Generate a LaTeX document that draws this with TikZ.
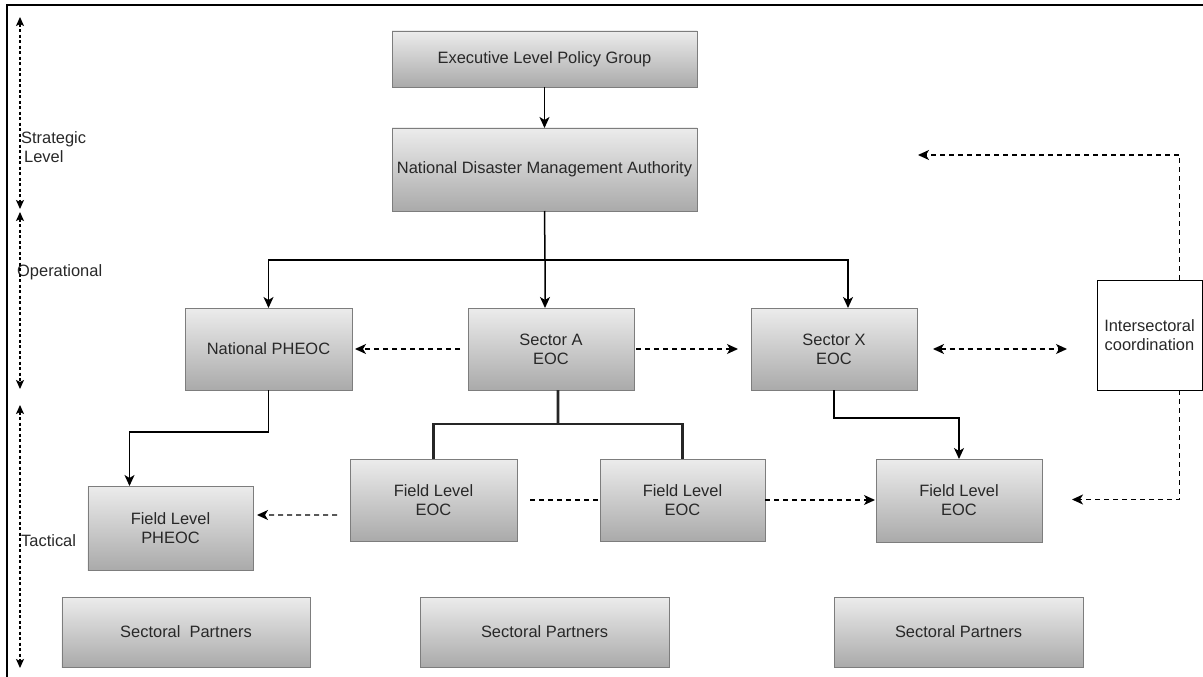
\documentclass[tikz,border=0pt]{standalone}
\usepackage{fontspec}
\setmainfont{Liberation Sans}
\usetikzlibrary{arrows.meta}
\definecolor{boxtop}{RGB}{236,236,236}
\definecolor{boxbot}{RGB}{170,170,170}
\definecolor{boxedge}{RGB}{125,125,125}
\definecolor{txt}{RGB}{40,40,40}
\tikzset{
  gbox/.style={draw=boxedge, line width=0.9bp, top color=boxtop, bottom color=boxbot,
    inner sep=0pt, outer sep=0pt, align=center, text=txt,
    font=\fontsize{16.5}{19}\selectfont},
  wbox/.style={draw=black, line width=1bp, fill=white, inner sep=0pt, outer sep=0pt,
    align=center, text=txt, font=\fontsize{16.5}{19}\selectfont},
  lvl/.style={anchor=west, inner sep=0pt, text=txt, align=left,
    font=\fontsize{16.5}{19}\selectfont},
  arr/.style={draw=black, line width=1.5bp, -{Stealth[length=11bp,width=10bp,inset=3bp]}},
  plain/.style={draw=black, line width=1.5bp},
  thickline/.style={draw=black!85, line width=2.8bp},
  dasharrow/.style={draw=black, line width=1.4bp, dash pattern=on 5bp off 4bp,
    -{Stealth[length=11bp,width=10bp,inset=3bp]}},
  dashboth/.style={draw=black, line width=1.4bp, dash pattern=on 5bp off 4bp,
    {Stealth[length=11bp,width=10bp,inset=3bp]}-{Stealth[length=11bp,width=10bp,inset=3bp]}},
  dashline/.style={draw=black, line width=1.4bp, dash pattern=on 5bp off 4bp},
  levelarrow/.style={draw=black, line width=1.3bp, dash pattern=on 3bp off 2.5bp,
    {Stealth[length=9bp,width=8bp,inset=2bp]}-{Stealth[length=9bp,width=8bp,inset=2bp]}}
}
\begin{document}
\begin{tikzpicture}[x=1bp,y=-1bp]
\useasboundingbox (0,0) rectangle (1203,677);
\fill[white] (0,0) rectangle (1203,677);
% frame
\draw[line width=2bp] (7,680) -- (7,5) -- (1203,5);

% nodes
\node[gbox, minimum width=305bp, minimum height=56bp] (exec) at (544.5,59) {Executive Level Policy Group};
\node[gbox, minimum width=305bp, minimum height=83bp] (ndma) at (544.5,169.5) {National Disaster Management Authority};
\node[gbox, minimum width=167bp, minimum height=82bp] (npheoc) at (268.5,349) {National PHEOC};
\node[gbox, minimum width=166bp, minimum height=82bp] (seca) at (551,349) {Sector A\\EOC};
\node[gbox, minimum width=166bp, minimum height=82bp] (secx) at (834,349) {Sector X\\EOC};
\node[wbox, minimum width=105bp, minimum height=110bp] (inter) at (1149.5,335) {Intersectoral\\coordination};
\node[gbox, minimum width=167bp, minimum height=82bp] (f1) at (433.5,500) {Field Level\\EOC};
\node[gbox, minimum width=165bp, minimum height=82bp] (f2) at (682.5,500) {Field Level\\EOC};
\node[gbox, minimum width=166bp, minimum height=83bp] (f3) at (959,500.5) {Field Level\\EOC};
\node[gbox, minimum width=165bp, minimum height=84bp] (fph) at (170.5,528) {Field Level\\PHEOC};
\node[gbox, minimum width=248bp, minimum height=70bp] (sp1) at (186,632) {Sectoral\ \ Partners};
\node[gbox, minimum width=249bp, minimum height=70bp] (sp2) at (544.5,632) {Sectoral Partners};
\node[gbox, minimum width=249bp, minimum height=70bp] (sp3) at (958.5,632) {Sectoral Partners};

% level labels
\node[lvl] (strat) at (21,147) {Strategic\\\hspace*{3bp}Level};
\node[lvl] (oper) at (17,272) {Operational};
\node[lvl] (tact) at (21,541) {Tactical};

% level arrows
\coordinate (s1) at (20,17);
\coordinate (s2) at (20,209);
\coordinate (o1) at (20,212);
\coordinate (o2) at (20,389);
\coordinate (t1) at (20,405);
\coordinate (t2) at (20,668);
\draw[levelarrow] (s1) -- (s2);
\draw[levelarrow] (o1) -- (o2);
\draw[levelarrow] (t1) -- (t2);

% solid connectors
\draw[arr] (exec.south) -- (ndma.north);
\coordinate (j) at (545,260);
\draw[plain] (ndma.south) -- (j);
\draw[arr] (j) -| (npheoc.north);
\draw[arr] (j) -- ([xshift=-6bp]seca.north);
\draw[arr] (j) -| ([xshift=14bp]secx.north);

\draw[arr] (npheoc.south) -- ++(0,42) -| ([xshift=-41bp]fph.north);
\draw[arr] (secx.south) -- ++(0,28) -| (f3.north);

\coordinate (k) at (558,424);
\draw[thickline] ([xshift=7bp]seca.south) -- (k);
\draw[thickline] (f1.north) |- (k) -| (f2.north);

% dashed connectors
\draw[dasharrow, shorten <=8bp, shorten >=3bp] (seca.west) -- (npheoc.east);
\draw[dasharrow, shorten <=2bp, shorten >=13bp] (seca.east) -- (secx.west);
\draw[dashboth, shorten <=16bp, shorten >=30bp] (secx.east) -- (secx.east -| inter.west);
\draw[dasharrow, shorten <=13bp, shorten >=4bp] ([yshift=-15bp]f1.west) -- ([yshift=13bp]fph.east);
\draw[dashline, shorten <=13bp] (f1.east) -- (f2.west);
\draw[dasharrow, shorten >=1bp] (f2.east) -- ([yshift=0.5bp]f3.west);
\draw[dasharrow, shorten >=30bp] ([xshift=30bp]inter.south) |- ([yshift=1bp]f3.east);
\coordinate (ic) at (918,155);
\draw[dasharrow] ([xshift=30bp]inter.north) |- (ic);
\end{tikzpicture}
\end{document}
